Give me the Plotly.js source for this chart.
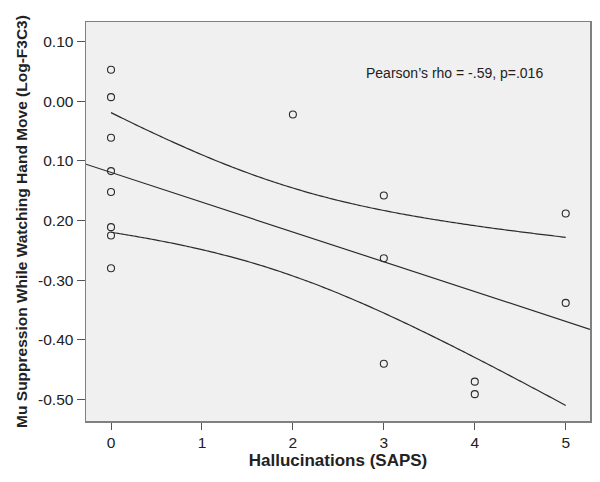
<!DOCTYPE html>
<html>
<head>
<meta charset="utf-8">
<script src="https://cdn.plot.ly/plotly-3.0.1.min.js"></script>
<style>html,body{margin:0;padding:0;background:#fff;}#chart{width:600px;height:482px;}</style>
</head>
<body>
<div id="chart"></div>
<script>
// Data
const hallucinations = [0, 0, 0, 0, 0, 0, 0, 0, 2, 3, 3, 3, 4, 4, 5, 5];
const muSuppression = [0.053, 0.007, -0.061, -0.117, -0.152, -0.211, -0.225, -0.280,
                       -0.022, -0.158, -0.263, -0.440, -0.470, -0.491, -0.188, -0.338];
const xTickVals = [0, 1, 2, 3, 4, 5];
const yTickVals = [0.10, 0.00, -0.10, -0.20, -0.30, -0.40, -0.50];
const yTickText = ["0.10", "0.00", "0.10", "0.20", "-0.30", "-0.40", "-0.50"];
const xRange = [-0.275, 5.267];
const yRange = [-0.536, 0.133];
const annotationText = "Pearson’s rho = -.59, p=.016";

// Linear regression and 95% CI of the mean, derived from the data
const n = hallucinations.length;
const xm = hallucinations.reduce((a, b) => a + b, 0) / n;
const ym = muSuppression.reduce((a, b) => a + b, 0) / n;
let sxx = 0, sxy = 0;
for (let i = 0; i < n; i++) {
  sxx += (hallucinations[i] - xm) ** 2;
  sxy += (hallucinations[i] - xm) * (muSuppression[i] - ym);
}
const slope = sxy / sxx;
const intercept = ym - slope * xm;
let sse = 0;
for (let i = 0; i < n; i++) {
  sse += (muSuppression[i] - (intercept + slope * hallucinations[i])) ** 2;
}
const s = Math.sqrt(sse / (n - 2));
const tCrit = 2.145; // t(0.975, 14)
const xMin = Math.min(...hallucinations), xMax = Math.max(...hallucinations);
const ciX = [], ciUp = [], ciLo = [];
const steps = 100;
for (let k = 0; k <= steps; k++) {
  const x = xMin + (xMax - xMin) * k / steps;
  const yhat = intercept + slope * x;
  const hw = tCrit * s * Math.sqrt(1 / n + (x - xm) ** 2 / sxx);
  ciX.push(x); ciUp.push(yhat + hw); ciLo.push(yhat - hw);
}
const fitX = xRange.slice();
const fitY = fitX.map(x => intercept + slope * x);

const lineStyle = {color: '#2b2b2b', width: 1.2, shape: 'spline'};
const traces = [
  {x: fitX, y: fitY, mode: 'lines', line: {color: '#2b2b2b', width: 1.2}, hoverinfo: 'skip'},
  {x: ciX, y: ciUp, mode: 'lines', line: lineStyle, hoverinfo: 'skip'},
  {x: ciX, y: ciLo, mode: 'lines', line: lineStyle, hoverinfo: 'skip'},
  {x: hallucinations, y: muSuppression, mode: 'markers',
   marker: {symbol: 'circle-open', size: 7, color: '#2b2b2b', line: {width: 1.1, color: '#2b2b2b'}}}
];

const fontFam = 'Liberation Sans, Arial, Helvetica, sans-serif';
const layout = {
  width: 600, height: 482,
  margin: {l: 86, r: 10, t: 22, b: 61},
  paper_bgcolor: '#ffffff',
  plot_bgcolor: '#f0f0f0',
  showlegend: false,
  font: {family: fontFam, color: '#222', size: 15},
  xaxis: {
    range: xRange, tickvals: xTickVals, ticktext: xTickVals.map(String),
    showgrid: false, zeroline: false,
    showline: true, mirror: true, linecolor: '#808080', linewidth: 1.5,
    ticks: 'outside', ticklen: 7, tickcolor: '#555', tickwidth: 1,
    tickfont: {size: 15.5, family: fontFam, color: '#222'},
    title: {text: 'Hallucinations (SAPS)', font: {size: 17, family: fontFam, color: '#222', weight: 'bold'}, standoff: 4}
  },
  yaxis: {
    range: yRange, tickvals: yTickVals, ticktext: yTickText,
    showgrid: false, zeroline: false,
    showline: true, mirror: true, linecolor: '#808080', linewidth: 1.5,
    ticks: 'outside', ticklen: 8, tickcolor: '#555', tickwidth: 1,
    tickfont: {size: 15.5, family: fontFam, color: '#222'},
    title: {text: 'Mu Suppression While Watching Hand Move (Log-F3C3)', font: {size: 15.5, family: fontFam, color: '#222', weight: 'bold'}, standoff: 6}
  },
  annotations: [{
    text: annotationText, xref: 'paper', yref: 'paper',
    x: 0.731, y: 0.871, xanchor: 'center', yanchor: 'middle', showarrow: false,
    font: {size: 14, family: fontFam, color: '#222'}
  }]
};

Plotly.newPlot('chart', traces, layout, {displayModeBar: false, staticPlot: true});
</script>
</body>
</html>
